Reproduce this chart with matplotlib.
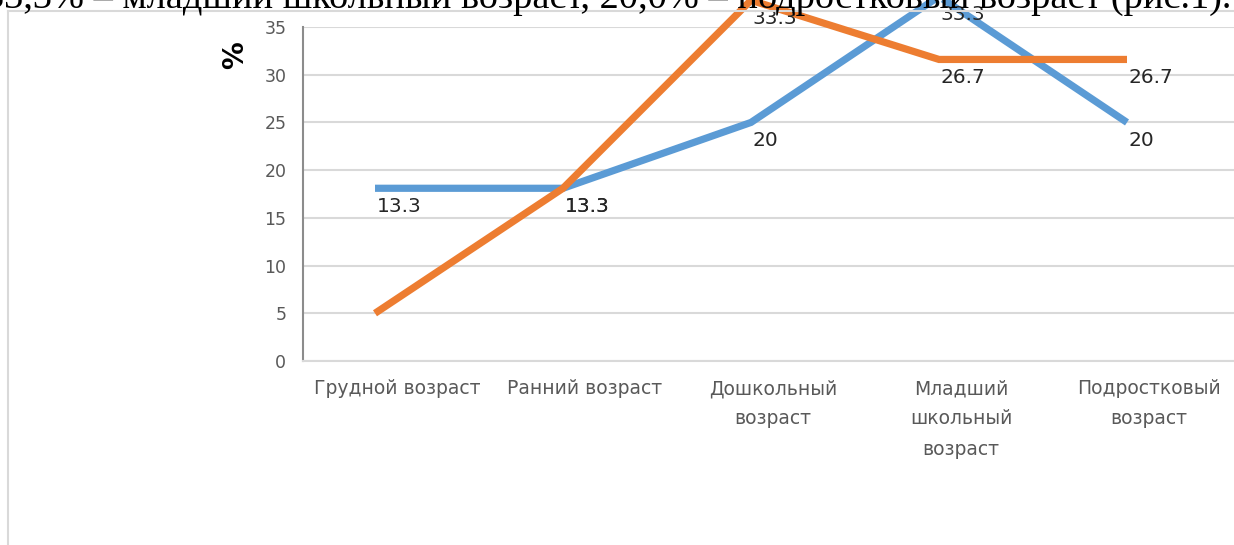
import matplotlib
matplotlib.use("Agg")
import matplotlib.pyplot as plt
from matplotlib.transforms import ScaledTranslation
from matplotlib.lines import Line2D

# categories (age groups)
categories = ["Грудной возраст", "Ранний возраст", "Дошкольный\nвозраст",
              "Младший\nшкольный\nвозраст", "Подростковый\nвозраст"]

# series as drawn in the picture
blue_vals = [18.1, 18.1, 25.0, 38.2, 25.0]
orange_vals = [5.0, 18.1, 37.8, 31.6, 31.6]

# data label texts shown next to points
blue_labels = ["13.3", "13.3", "20", "33.3", "20"]
orange_labels = ["", "13.3", "33.3", "26.7", "26.7"]

yticks = [0, 5, 10, 15, 20, 25, 30, 35]

caption = "33,3% – младший школьный возраст, 20,0% – подростковый возраст (рис.1)."

plt.rcParams['font.family'] = ['DejaVu Sans']

fig = plt.figure(figsize=(12.34, 5.45), dpi=100)
W, H = 1234, 545

# chart area border (light gray, top and left edge)
fig.add_artist(Line2D([8 / W, 8 / W], [0, 1 - 11 / H], color="#d9d9d9", lw=1.5))
fig.add_artist(Line2D([8 / W, 1], [1 - 11 / H, 1 - 11 / H], color="#d9d9d9", lw=1.5))

# text of the document above the chart, cut off at the top
fig.text(-0.012, 1 - 8 / H, caption, family="Liberation Serif", fontsize=27.6,
         color="black", va="baseline", ha="left")

ax = fig.add_axes([303 / W, 1 - 361 / H, 940 / W, (361 - 27) / H])
x = list(range(len(categories)))

# the lines sit a little left of the category centres
line_trans = ax.transData + ScaledTranslation(-22 / 100, 0, fig.dpi_scale_trans)

ax.plot(x, blue_vals, color="#5b9bd5", lw=5.2, transform=line_trans,
        clip_on=False, solid_capstyle="butt", solid_joinstyle="miter", zorder=3)
ax.plot(x, orange_vals, color="#ed7d31", lw=5.2, transform=line_trans,
        clip_on=False, solid_capstyle="butt", solid_joinstyle="miter", zorder=3)

for vals, labs in [(blue_vals, blue_labels), (orange_vals, orange_labels)]:
    for i, (v, t) in enumerate(zip(vals, labs)):
        if not t:
            continue
        ax.annotate(t, xy=(i, v), xycoords=line_trans, xytext=(1, -6),
                    textcoords="offset points", ha="left", va="top",
                    fontsize=14.5, color="#262626", annotation_clip=False, zorder=4)

ax.set_xlim(-0.5, len(categories) - 0.5)
ax.set_ylim(0, 35)
ax.set_yticks(yticks)
ax.set_xticks(x)
ax.set_xticklabels(categories, linespacing=1.75)
ax.tick_params(axis="both", length=0, colors="#595959")
ax.tick_params(axis="y", pad=12, labelsize=12.5)
ax.tick_params(axis="x", pad=13, labelsize=13.5)

ax.grid(axis="y", color="#d9d9d9", lw=1.5)
ax.set_axisbelow(True)
for s in ["top", "right"]:
    ax.spines[s].set_visible(False)
ax.spines["left"].set_color("#8c8c8c")
ax.spines["left"].set_linewidth(1.5)
ax.spines["bottom"].set_color("#d9d9d9")
ax.spines["bottom"].set_linewidth(1.5)

fig.text(235 / W, 1 - 55 / H, "%", rotation=90, fontsize=20, fontweight="bold",
         color="black", ha="center", va="center")

fig.savefig("out.png", dpi=100)
